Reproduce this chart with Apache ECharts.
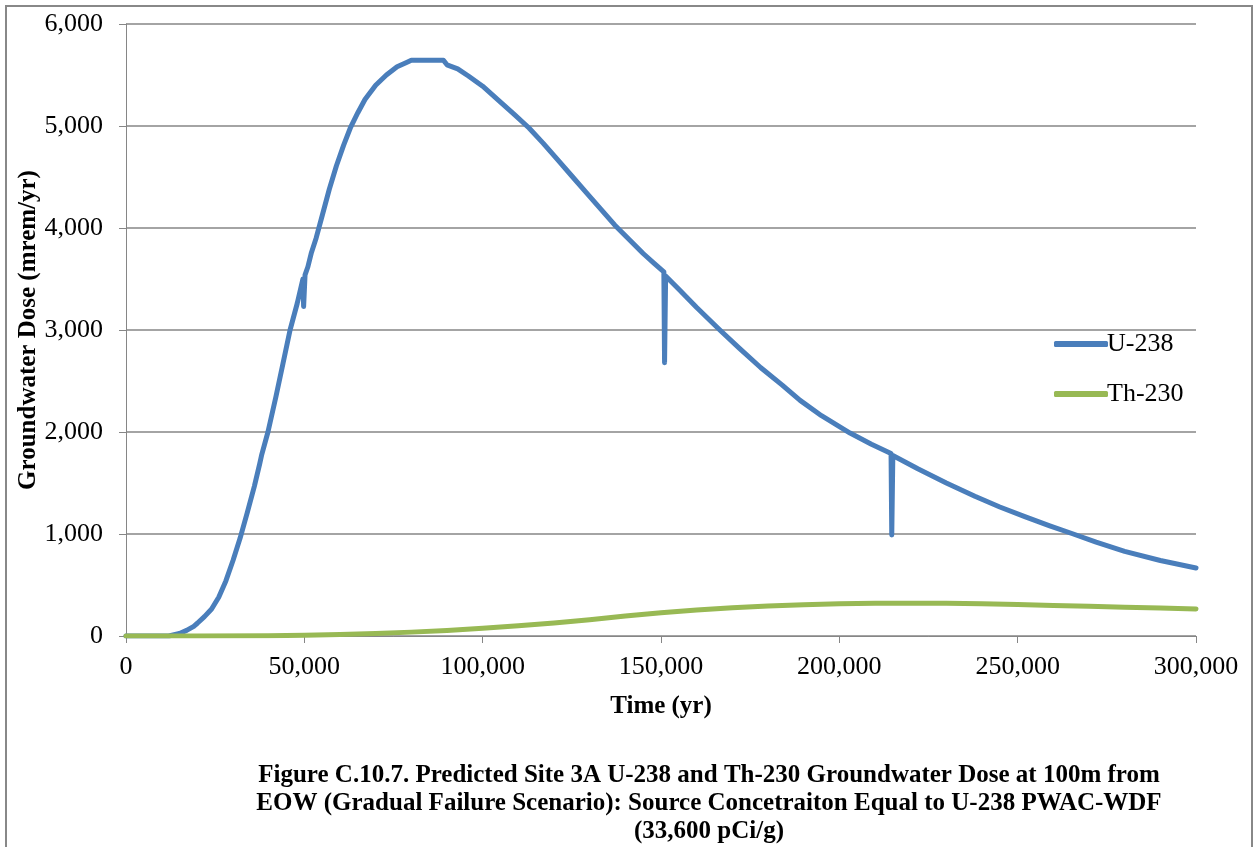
<!DOCTYPE html>
<html>

<head>
    <meta charset="utf-8">
    <title>Groundwater Dose - Site 3A</title>
    <script src="https://cdn.jsdelivr.net/npm/echarts@6/dist/echarts.min.js"></script>
    <style>
        html, body { margin: 0; padding: 0; background: #fff; }
        #chart { width: 1254px; height: 847px; }
    </style>
</head>

<body>
    <div id="chart"></div>
    <script>
        // time (yr) and dose (mrem/yr)
        var u238Time = [0, 12000, 15000, 17000, 19000, 20000, 22000, 24000, 26000, 28000, 30000, 32000, 34000, 36000,
            37500, 37700, 38000, 39800, 42000, 44000, 46000, 48000, 49600, 49800, 50200, 51000, 52000, 53300,
            55000, 57000, 59000, 61000, 63000, 65000, 67000, 70000, 73000, 76000, 78500, 80000, 89000, 90000,
            93000, 96000, 100000, 105000, 109000, 113000, 117000, 121000, 125000, 129000, 133000, 137000, 141000,
            145000, 148000, 150800, 151000, 151300, 155000, 160000, 166500, 172000, 178000, 184000, 189000,
            195000, 203000, 209000, 214500, 214700, 215000, 222000, 230000, 238000, 245000, 252000, 259000,
            265600, 272000, 280000, 290000, 300000];
        var u238Dose = [0, 0, 25, 55, 95, 125, 190, 265, 380, 540, 740, 960, 1210, 1470,
            1690, 1700, 1770, 2000, 2340, 2670, 3000, 3260, 3500, 3230, 3540, 3620, 3760, 3900,
            4120, 4380, 4610, 4810, 4990, 5130, 5260, 5400, 5500, 5580, 5620, 5645, 5645, 5600,
            5560, 5490, 5390, 5235, 5110, 4980, 4830, 4670, 4510, 4350, 4190, 4030, 3890,
            3750, 3655, 3570, 2680, 3530, 3400, 3220, 3000, 2820, 2630, 2460, 2310,
            2160, 1990, 1880, 1790, 990, 1770, 1640, 1500, 1370, 1265, 1170, 1080,
            1000, 920, 830, 740, 667];

        var th230Time = [0, 20000, 40000, 50000, 60000, 70000, 80000, 90000, 100000, 110000, 120000, 130000, 140000,
            150000, 160000, 170000, 180000, 190000, 200000, 210000, 220000, 230000, 240000, 250000, 260000,
            270000, 280000, 290000, 300000];
        var th230Dose = [0, 0, 3, 8, 15, 25, 38, 55, 75, 100, 128, 160, 195,
            228, 255, 278, 295, 307, 315, 320, 322, 320, 315, 308, 300,
            292, 283, 274, 265];

        var seriesNames = ['U-238', 'Th-230'];
        var captionLines = [
            'Figure C.10.7. Predicted Site 3A U-238 and Th-230 Groundwater Dose at 100m from',
            'EOW (Gradual Failure Scenario): Source Concetraiton Equal to U-238 PWAC-WDF',
            '(33,600 pCi/g)'
        ];

        function pairs(xs, ys) {
            return xs.map(function (x, i) { return [x, ys[i]]; });
        }

        function commas(v) {
            return String(v).replace(/\B(?=(\d{3})+(?!\d))/g, ',');
        }

        var serif = '"Liberation Serif", "DejaVu Serif", serif';
        var gridColor = '#868686';

        var chart = echarts.init(document.getElementById('chart'));

        var option = {
            backgroundColor: '#fff',
            animation: false,
            textStyle: { fontFamily: serif, color: '#000' },
            grid: { left: 126, right: 58, top: 24, bottom: 211, containLabel: false },
            legend: {
                data: seriesNames,
                orient: 'vertical',
                left: 1049,
                top: 326,
                icon: 'roundRect',
                itemWidth: 54,
                itemHeight: 6,
                itemGap: 24,
                textStyle: { fontFamily: serif, fontSize: 26, color: '#000', padding: [0, 0, 0, -6] }
            },
            xAxis: {
                type: 'value',
                min: 0,
                max: 300000,
                interval: 50000,
                name: 'Time (yr)',
                nameLocation: 'middle',
                nameGap: 58,
                nameMoveOverlap: false,
                nameTextStyle: { fontFamily: serif, fontSize: 25, fontWeight: 'bold', color: '#000' },
                axisLine: { show: true, lineStyle: { color: gridColor, width: 1 } },
                axisTick: { show: true, length: 7, lineStyle: { color: gridColor } },
                axisLabel: { fontSize: 26, color: '#000', margin: 18, formatter: commas },
                splitLine: { show: false }
            },
            yAxis: {
                type: 'value',
                min: 0,
                max: 6000,
                interval: 1000,
                name: 'Groundwater Dose (mrem/yr)',
                nameLocation: 'middle',
                nameGap: 85,
                nameMoveOverlap: false,
                nameTextStyle: { fontFamily: serif, fontSize: 25, fontWeight: 'bold', color: '#000' },
                axisLine: { show: true, lineStyle: { color: gridColor, width: 1 } },
                axisTick: { show: true, length: 7, lineStyle: { color: gridColor } },
                axisLabel: { fontSize: 26, color: '#000', margin: 23, formatter: commas },
                splitLine: { show: true, lineStyle: { color: gridColor, width: 1.5 } }
            },
            series: [
                {
                    name: seriesNames[0],
                    type: 'line',
                    symbol: 'none',
                    data: pairs(u238Time, u238Dose),
                    lineStyle: { color: '#4A7EBB', width: 5, cap: 'round', join: 'round' },
                    itemStyle: { color: '#4A7EBB' },
                    z: 3
                },
                {
                    name: seriesNames[1],
                    type: 'line',
                    symbol: 'none',
                    data: pairs(th230Time, th230Dose),
                    lineStyle: { color: '#98B954', width: 5, cap: 'round', join: 'round' },
                    itemStyle: { color: '#98B954' },
                    z: 4
                }
            ],
            graphic: [
                {
                    type: 'rect',
                    shape: { x: 6, y: 6, width: 1246, height: 860 },
                    style: { fill: 'none', stroke: '#888', lineWidth: 2 },
                    silent: true
                },
                {
                    type: 'text',
                    x: 709, y: 804,
                    style: {
                        text: captionLines.join('\n'),
                        textAlign: 'center',
                        textVerticalAlign: 'middle',
                        font: 'bold 25px ' + serif,
                        lineHeight: 28,
                        fill: '#000'
                    }
                }
            ]
        };
        chart.setOption(option);
    </script>
</body>

</html>
